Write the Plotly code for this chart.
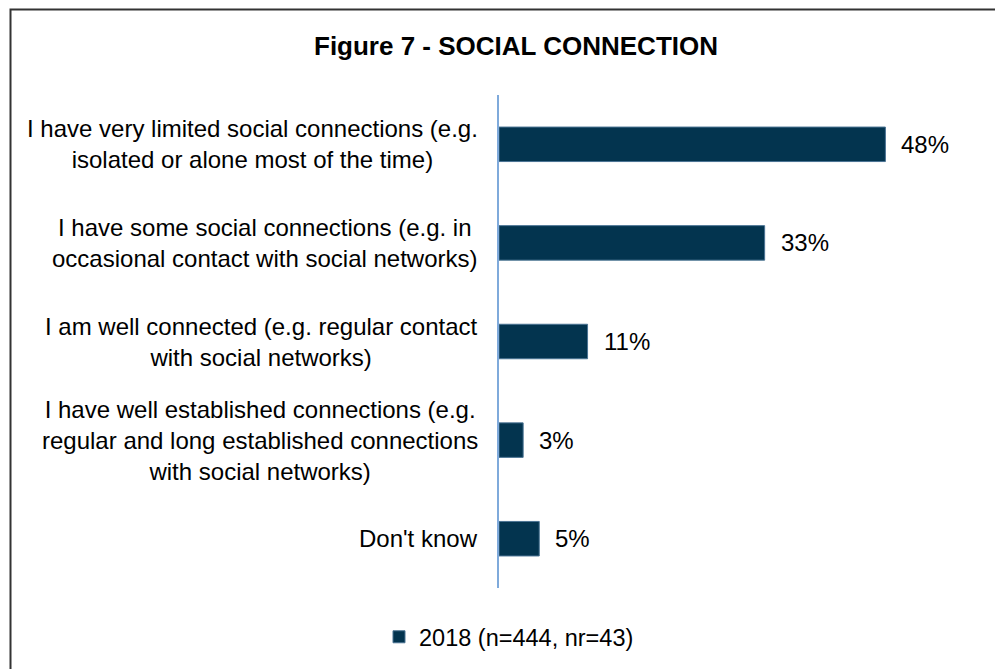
import plotly.graph_objects as go

# Survey responses: level of social connection
categories = [
    "I have very limited social connections (e.g.<br>isolated or alone most of the time)",
    "I have some social connections (e.g. in<br>occasional contact with social networks)",
    "I am well connected (e.g. regular contact<br>with social networks)",
    "I have well established connections (e.g.<br>regular and long established connections<br>with social networks)",
    "Don't know",
]
values = [48, 33, 11, 3, 5]
value_labels = ["48%", "33%", "11%", "3%", "5%"]
series_name = "2018 (n=444, nr=43)"
title_text = "Figure 7 - SOCIAL CONNECTION"

W, H = 995, 669
L, R, T, B = 499, 16, 95, 81
plot_w = W - L - R
plot_h = H - T - B
px_per_pct = 8.05
x_max = plot_w / px_per_pct

FONT = "Liberation Sans, Arial, sans-serif"
BAR_COLOR = "#03344F"

fig = go.Figure()
fig.add_trace(go.Bar(
    y=categories,
    x=values,
    orientation="h",
    name=series_name,
    width=0.35,
    marker=dict(color=BAR_COLOR, line=dict(color="#4A7393", width=1)),
    showlegend=True,
    hoverinfo="skip",
))

annotations = []
# category labels, centred lines, right edge just left of the axis
for cat in categories:
    annotations.append(dict(
        x=0, xref="paper", y=cat, yref="y",
        text=cat, showarrow=False, xanchor="right", yanchor="middle",
        align="center", xshift=-19,
        font=dict(family=FONT, size=24, color="#000000"),
    ))
# value labels beside each bar
for cat, v, lab in zip(categories, values, value_labels):
    annotations.append(dict(
        x=v, xref="x", y=cat, yref="y",
        text=lab, showarrow=False, xanchor="left", yanchor="middle",
        xshift=14,
        font=dict(family=FONT, size=24, color="#000000"),
    ))

# outer frame of the chart (top and left edges)
def px_to_paper_x(px):
    return (px - L) / plot_w

def px_to_paper_y(py):
    return (H - B - py) / plot_h

xl = px_to_paper_x(10.5)
yt = px_to_paper_y(9.5)
frame_path = (
    f"M {xl},{px_to_paper_y(H + 50)} L {xl},{yt} L {px_to_paper_x(W + 50)},{yt}"
)

fig.update_layout(
    width=W, height=H,
    margin=dict(l=L, r=R, t=T, b=B, pad=0),
    paper_bgcolor="white", plot_bgcolor="white",
    font=dict(family=FONT, size=24, color="#000000"),
    title=dict(
        text=f"<b>{title_text}</b>",
        x=516 / W, xanchor="center", xref="container",
        y=1 - 46 / H, yanchor="middle", yref="container",
        font=dict(family=FONT, size=26, color="#000000"),
    ),
    xaxis=dict(range=[0, x_max], visible=False, fixedrange=True),
    yaxis=dict(
        autorange="reversed", showticklabels=False, ticks="",
        showline=True, linecolor="#7FAADB", linewidth=1.5,
        showgrid=False, zeroline=False, fixedrange=True,
    ),
    showlegend=True,
    legend=dict(
        orientation="h", xref="container", yref="container",
        x=379 / W, xanchor="left", y=1 - 637 / H, yanchor="middle",
        font=dict(family=FONT, size=23.5, color="#000000"),
        bgcolor="rgba(0,0,0,0)",
    ),
    annotations=annotations,
    shapes=[dict(
        type="path", xref="paper", yref="paper", path=frame_path,
        line=dict(color="#333333", width=2),
    )],
)

fig.write_html("out.html", config={"displayModeBar": False})
